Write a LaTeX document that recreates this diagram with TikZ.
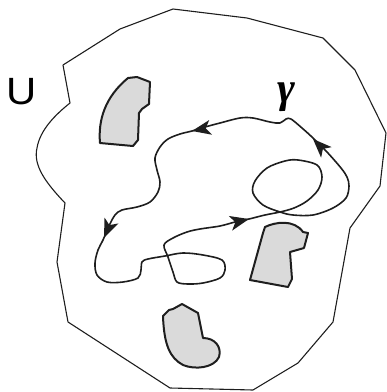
\documentclass[tikz,border=0pt]{standalone}
\usepackage{fontspec}
\setsansfont{Liberation Sans}
\newfontfamily\greekfont{Liberation Serif}
\definecolor{ink}{RGB}{30,30,30}
\definecolor{blobfill}{RGB}{218,218,218}
\tikzset{
  outer/.style={draw=ink, line width=1.1pt, line join=round},
  curve/.style={draw=ink, line width=1.6pt, line join=round},
  blob/.style={draw=ink, fill=blobfill, line width=2pt, line join=round},
  arrowhd/.pic={\fill[ink] (0,0) -- (-19,7.5) -- (-14,0) -- (-19,-7.5) -- cycle;}
}
\begin{document}
\begin{tikzpicture}[x=1pt,y=-1pt]
\useasboundingbox (0,0) rectangle (387,392);
% outer region U
\draw[outer] (63,65) -- (120,29) -- (173,9) -- (247,18) -- (323,38) -- (355,70)
  -- (386,133) -- (380,186) -- (350,228) -- (333,322) -- (298,363) -- (253,390)
  -- (170,388) -- (68,322) -- (57,262) -- (65,203)
  .. controls (45,182) and (33,165) .. (37,148)
  .. controls (40,130) and (55,115) .. (70,103) -- cycle;
% obstacles
\draw[blob] (128,78) -- (137,77) -- (150,82) -- (149,104) -- (142,109) -- (139,113)
  -- (138,140) -- (133,146) -- (100,143)
  .. controls (98,120) and (105,97) .. (128,78) -- cycle;
\draw[blob] (265,227) .. controls (275,222) and (294,219) .. (303,232) -- (308,233)
  -- (304,248) -- (290,252) -- (292,279) -- (288,287) -- (250,280) -- (263,233) -- cycle;
\draw[blob] (163,316) -- (169,310) -- (173,309) -- (182,304) -- (198,313) -- (203,338)
  .. controls (215,338) and (222,347) .. (219,357)
  .. controls (214,368) and (195,370) .. (183,365)
  .. controls (170,358) and (164,345) .. (163,316) -- cycle;
% the curve gamma
\draw[curve] plot[smooth cycle, tension=0.55] coordinates {
  (302,128) (291,119) (286,119) (280,123) (270,122) (253,118) (240,118) (220,123)
  (205,127) (192,131) (180,134) (168,139) (160,147) (155,158) (157,170) (160,182)
  (158,192) (150,202) (137,207) (122,210) (115,215) (109,226) (103,240) (98,250)
  (95,263) (97,275) (107,282) (123,282) (138,278) (141,270) (142,262) (148,259)
  (165,256) (183,253) (203,255) (222,260) (225,270) (220,278) (203,283) (188,284)
  (177,282) (173,272) (168,257) (164,245) (173,238) (187,232) (200,229) (220,226)
  (235,222) (249,219) (265,215) (280,212) (294,208) (307,201) (318,190) (322,177)
  (317,165) (298,160) (285,161) (267,168) (255,181) (253,193) (263,205) (280,212)
  (293,215) (313,215) (333,208) (346,198) (349,186) (347,177) (341,168) (327,152)
  (313,138)};
% arrowheads
\pic[rotate=191] at (192,131) {arrowhd};
\pic[rotate=247] at (104,238) {arrowhd};
\pic[rotate=13] at (249,219) {arrowhd};
\pic[rotate=135] at (313,139) {arrowhd};
% labels
\node[font=\sffamily\fontsize{38}{38}\selectfont, inner sep=0pt, xscale=1.1] (labelU) at (22,92) {U};
\node[font=\greekfont\bfseries\itshape\fontsize{43}{43}\selectfont, inner sep=0pt] (labelgamma) at (286,97) {γ};
\end{tikzpicture}
\end{document}
